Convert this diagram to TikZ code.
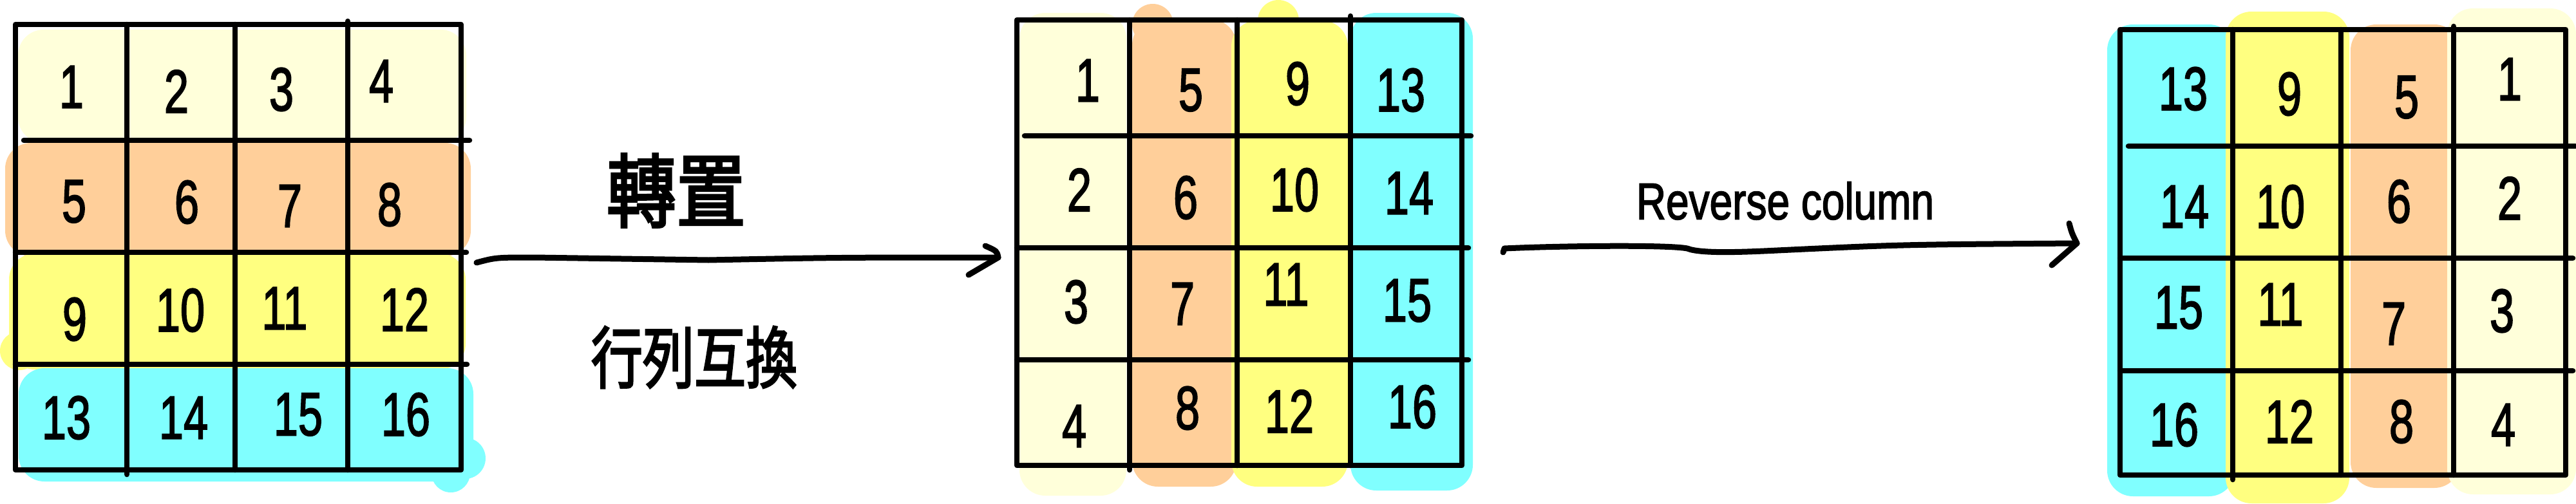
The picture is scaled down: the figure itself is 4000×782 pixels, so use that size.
\documentclass[tikz,border=0pt]{standalone}
\usepackage{fontspec}
\setmainfont{Liberation Sans}
\newfontfamily\hand[FakeBold=2.2]{Liberation Sans}
\newfontfamily\cjk[FakeBold=3]{Noto Sans CJK TC}
\definecolor{cream}{HTML}{FFFFDA}
\definecolor{peach}{HTML}{FFCF9A}
\definecolor{hyel}{HTML}{FFFF80}
\definecolor{hcyan}{HTML}{80FFFF}
\tikzset{
  gridline/.style={line width=8.5pt, line cap=round, line join=round},
  num/.style={inner sep=0pt, font=\hand\fontsize{95}{95}\selectfont},
  hl/.style={rounded corners=40pt},
  conn/.style={line width=9pt, line cap=round, line join=round},
  lbl/.style={inner sep=0pt},
}
\newcommand{\dg}[1]{\scalebox{0.72}[1]{#1}}
\begin{document}
\begin{tikzpicture}[x=1pt,y=-1pt]
\useasboundingbox (0,0) rectangle (4000,782);

% ---------- highlights grid 1 (rows) ----------
\fill[cream,hl] (28,46) rectangle (724,222);
\fill[peach,hl] (8,222) rectangle (731,398);
\fill[hyel,hl] (14,394) rectangle (723,574);
\fill[hyel] (30,545) circle (30);
\fill[hcyan,hl] (29,572) rectangle (735,748);
\fill[hcyan] (722,712) circle (32);
\fill[hcyan] (700,735) circle (30);

% ---------- highlights grid 2 (columns) ----------
\fill[cream,hl] (1583,20) rectangle (1749,770);
\fill[peach,hl] (1758,30) rectangle (1920,756);
\fill[peach] (1790,38) circle (32);
\fill[hyel,hl] (1912,32) rectangle (2093,756);
\fill[hyel] (1985,32) circle (32);
\fill[hcyan,hl] (2097,20) rectangle (2287,762);

% ---------- highlights grid 3 (columns) ----------
\fill[hcyan,hl] (3272,38) rectangle (3470,771);
\fill[hyel,hl] (3456,18) rectangle (3648,782);
\fill[peach,hl] (3650,38) rectangle (3820,758);
\fill[cream,hl] (3800,13) rectangle (4000,768);

% ---------- grid 1 lines ----------
\draw[gridline] (24,38) rectangle (716,730);
\draw[gridline] (197,38) -- (197,737);
\draw[gridline] (365,38) -- (365,730);
\draw[gridline] (540,33) -- (540,730);
\draw[gridline] (37,218) -- (729,218);
\draw[gridline] (24,392) -- (724,392);
\draw[gridline] (24,566) -- (725,566);

% ---------- grid 2 lines ----------
\draw[gridline] (1579,31) rectangle (2270,723);
\draw[gridline] (1754,31) -- (1754,730);
\draw[gridline] (1921,31) -- (1921,723);
\draw[gridline] (2097,25) -- (2097,723);
\draw[gridline] (1591,211) -- (2284,211);
\draw[gridline] (1579,385) -- (2280,385);
\draw[gridline] (1579,559) -- (2280,559);

% ---------- grid 3 lines ----------
\draw[gridline] (3292,46) rectangle (3984,738);
\draw[gridline] (3467,46) -- (3467,745);
\draw[gridline] (3635,46) -- (3635,738);
\draw[gridline] (3810,41) -- (3810,738);
\draw[gridline] (3305,227) -- (3999,227);
\draw[gridline] (3292,401) -- (3995,401);
\draw[gridline] (3292,576) -- (3995,576);

% ---------- digits grid 1 ----------
\node[num] (a1)  at (111,135) {\dg{1}};
\node[num] (a2)  at (274,142) {\dg{2}};
\node[num] (a3)  at (437,139) {\dg{3}};
\node[num] (a4)  at (592,126) {\dg{4}};
\node[num] (a5)  at (115,313) {\dg{5}};
\node[num] (a6)  at (290,314) {\dg{6}};
\node[num] (a7)  at (450,320) {\dg{7}};
\node[num] (a8)  at (605,318) {\dg{8}};
\node[num] (a9)  at (116,496) {\dg{9}};
\node[num] (a10) at (280,482) {\dg{10}};
\node[num] (a11) at (442,479) {\dg{11}};
\node[num] (a12) at (628,481) {\dg{12}};
\node[num] (a13) at (103,649) {\dg{13}};
\node[num] (a14) at (285,649) {\dg{14}};
\node[num] (a15) at (463,644) {\dg{15}};
\node[num] (a16) at (630,644) {\dg{16}};

% ---------- digits grid 2 ----------
\node[num] (b1)  at (1689,125) {\dg{1}};
\node[num] (b5)  at (1849,140) {\dg{5}};
\node[num] (b9)  at (2015,130) {\dg{9}};
\node[num] (b13) at (2175,140) {\dg{13}};
\node[num] (b2)  at (1676,295) {\dg{2}};
\node[num] (b6)  at (1841,307) {\dg{6}};
\node[num] (b10) at (2010,295) {\dg{10}};
\node[num] (b14) at (2188,300) {\dg{14}};
\node[num] (b3)  at (1671,469) {\dg{3}};
\node[num] (b7)  at (1836,472) {\dg{7}};
\node[num] (b11) at (1997,442) {\dg{11}};
\node[num] (b15) at (2185,467) {\dg{15}};
\node[num] (b4)  at (1668,662) {\dg{4}};
\node[num] (b8)  at (1844,634) {\dg{8}};
\node[num] (b12) at (2002,639) {\dg{12}};
\node[num] (b16) at (2193,632) {\dg{16}};

% ---------- digits grid 3 ----------
\node[num] (c13) at (3390,138) {\dg{13}};
\node[num] (c9)  at (3555,146) {\dg{9}};
\node[num] (c5)  at (3737,151) {\dg{5}};
\node[num] (c1)  at (3897,123) {\dg{1}};
\node[num] (c14) at (3392,321) {\dg{14}};
\node[num] (c10) at (3541,321) {\dg{10}};
\node[num] (c6)  at (3725,313) {\dg{6}};
\node[num] (c2)  at (3897,308) {\dg{2}};
\node[num] (c15) at (3383,478) {\dg{15}};
\node[num] (c11) at (3541,473) {\dg{11}};
\node[num] (c7)  at (3717,503) {\dg{7}};
\node[num] (c3)  at (3885,483) {\dg{3}};
\node[num] (c16) at (3376,660) {\dg{16}};
\node[num] (c12) at (3555,655) {\dg{12}};
\node[num] (c8)  at (3729,655) {\dg{8}};
\node[num] (c4)  at (3887,660) {\dg{4}};

% ---------- labels ----------
\node[lbl] (tr) at (1050,296) {\cjk\fontsize{108}{108}\selectfont\scalebox{1}[1.15]{轉置}};
\node[lbl] (sw) at (1078,555) {\cjk\fontsize{80}{80}\selectfont\scalebox{1}[1.3]{行列互換}};
\node[lbl] (rc) at (2772,312) {\hand\fontsize{80}{80}\selectfont\scalebox{0.8}[1]{Reverse column}};

% ---------- arrows ----------
\coordinate (s1) at (740,408);
\coordinate (t1) at (1550,400);
\draw[conn] (s1) .. controls (770,400) .. (830,400) -- (1100,404) .. controls (1300,400) .. (t1);
\draw[conn] (1530,382) .. controls (1548,390) .. (t1) -- (1504,427);

\coordinate (s2) at (2336,386);
\coordinate (t2) at (3225,378);
\draw[conn] (2334,392) -- (s2) .. controls (2420,382) and (2590,380) .. (2620,386)
  .. controls (2640,394) and (2700,392) .. (2760,389) .. controls (2950,380) .. (t2);
\draw[conn] (3213,347) .. controls (3217,362) .. (t2) -- (3186,412);
\end{tikzpicture}
\end{document}
